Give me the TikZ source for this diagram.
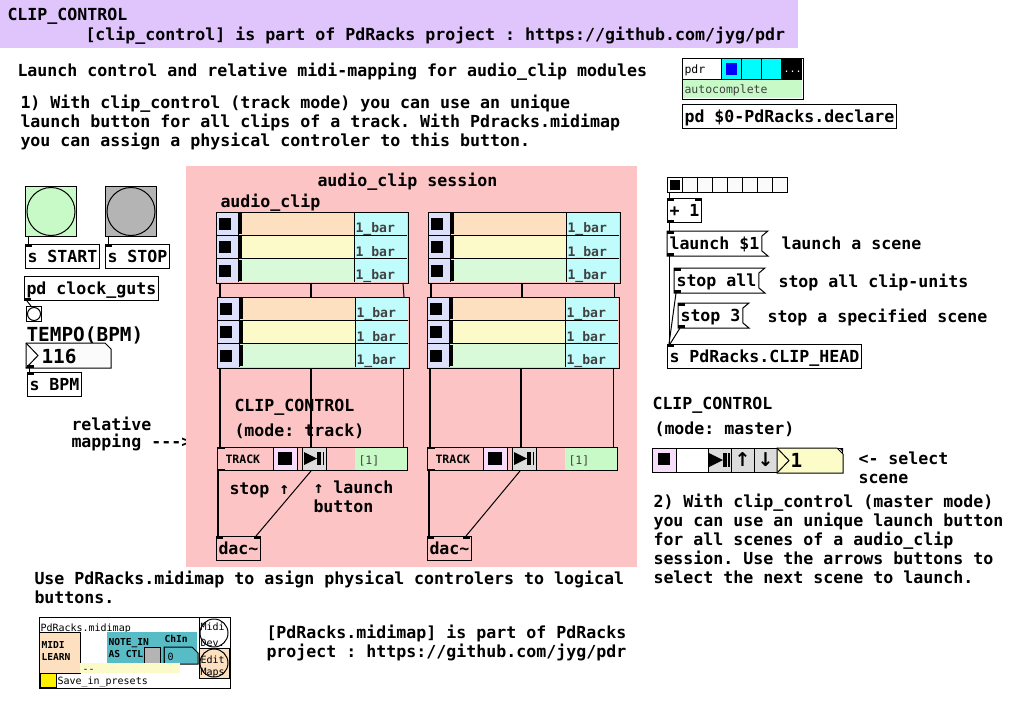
\documentclass[tikz,border=0pt]{standalone}
\usepackage{fontspec}
\setmonofont{DejaVu Sans Mono}
\newfontfamily\pdsans{DejaVu Sans}
\usetikzlibrary{positioning}

\definecolor{pdheader}{RGB}{224,196,252}
\definecolor{pdpink}{RGB}{252,196,196}
\definecolor{clippeach}{RGB}{252,224,192}
\definecolor{clipyellow}{RGB}{252,250,200}
\definecolor{clipgreen}{RGB}{216,250,216}
\definecolor{clipcyan}{RGB}{192,252,252}
\definecolor{cliplav}{RGB}{220,224,250}
\definecolor{bangreen}{RGB}{200,250,200}
\definecolor{bangray}{RGB}{180,180,180}
\definecolor{cellpink}{RGB}{248,220,252}
\definecolor{cellgray}{RGB}{220,220,220}
\definecolor{numyellow}{RGB}{252,252,200}
\definecolor{mapteal}{RGB}{88,188,198}
\definecolor{pdrcyan}{RGB}{0,252,252}
\definecolor{pdrblue}{RGB}{0,0,252}
\definecolor{txtgray}{RGB}{64,64,64}

\newcommand\pdfont{\ttfamily\bfseries\fontsize{16.6}{19}\selectfont}
\newcommand\pdbig{\ttfamily\bfseries\fontsize{19.4}{22}\selectfont}
\newcommand\pdclip{\ttfamily\bfseries\fontsize{13.1}{15}\selectfont}
\newcommand\pdtiny{\ttfamily\fontsize{11.5}{13}\selectfont}
\newcommand\pdtinyb{\ttfamily\bfseries\fontsize{11.5}{13}\selectfont}
\newcommand\pdmini{\ttfamily\fontsize{10}{12}\selectfont}
\newcommand\pdminib{\ttfamily\bfseries\fontsize{9.6}{12}\selectfont}
\newcommand\pdarrow{\pdsans\bfseries\fontsize{19}{22}\selectfont}

\tikzset{
	obj/.style = {draw, anchor=north west, inner xsep=2, inner ysep=0, text height=18, text depth=6, font=\pdfont},
	msg/.style = {anchor=north west, inner xsep=2, inner ysep=0, text height=18, text depth=6, font=\pdfont},
	comment/.style = {anchor=base west, inner sep=0, font=\pdfont, align=left},
	small label/.style = {anchor=base west, inner sep=0},
	bangbox/.style = {draw, anchor=north west, inner sep=0},
	clipframe/.style = {anchor=north west, minimum width=191, minimum height=70, inner sep=0},
	trackframe/.style = {draw, fill=pdpink, anchor=north west, minimum width=190, minimum height=23, inner sep=0},
	sig/.style = {line width=2}
}

% message box outline
\newcommand\msgflag[1]{\draw (#1.north west) -- ([xshift=6]#1.north east) -- ([yshift=-5]#1.north east)
	-- ([yshift=5]#1.south east) -- ([xshift=6]#1.south east) -- (#1.south west) -- cycle;}
% number box outline
\newcommand\numshape[3]{\draw[fill=#2] (#1.north west) -- ([xshift=-6]#1.north east) -- ([yshift=-6]#1.north east)
	-- (#1.south east) -- (#1.south west) -- cycle;
	\draw (#1.north west) -- ([xshift=#3]#1.west) -- (#1.south west);}
\newcommand\inlet[2][0]{\fill ([xshift=#1]#2.north west) rectangle ++(7,3);}
\newcommand\outlet[2][0]{\fill ([xshift=#1]#2.south west) rectangle ++(7,-3);}

\newcommand\clipblock[3]{%
	\node[clipframe] (#1) at (#2,#3) {};
	\foreach \row/\rowcol in {0/clippeach,1/clipyellow,2/clipgreen}{
		\fill[cliplav] (#2,{#3+\row*70/3}) rectangle ++(22,70/3);
		\fill[\rowcol] (#2+22,{#3+\row*70/3}) rectangle ++(116,70/3);
		\fill[clipcyan] (#2+138,{#3+\row*70/3}) rectangle ++(53,70/3);
		\fill (#2+3,{#3+\row*70/3+6}) rectangle ++(12,12);
		\fill (#2+23,{#3+\row*70/3+1}) rectangle ++(3,70/3-2);
		\draw (#2+22,{#3+\row*70/3}) -- ++(0,70/3) (#2+138,{#3+\row*70/3}) -- ++(0,70/3);
		\draw (#2,{#3+\row*70/3}) -- ++(191,0);
		\node[small label, font=\pdclip, text=txtgray] (#1-bar\row) at (#2+139,{#3+\row*70/3+20.7}) {1\_bar};
	}
	\draw (#1.north west) rectangle (#1.south east);
}

\newcommand\trackwidget[3]{%
	\node[trackframe] (#1) at (#2,#3) {};
	\draw[fill=cellpink] (#2+56,#3) rectangle ++(24,23);
	\fill (#2+61,#3+5) rectangle ++(14,13);
	\draw[fill=cellgray] (#2+85,#3) rectangle ++(24,23);
	\fill (#2+87,#3+5) -- (#2+100,#3+11.5) -- (#2+87,#3+18) -- cycle;
	\fill (#2+100,#3+5) rectangle ++(4,13);
	\fill (#2+105.5,#3+5) rectangle ++(1.5,13);
	\fill[bangreen] (#2+138,#3+0.5) rectangle (#2+189.5,#3+22.5);
	\node[small label, font=\pdtinyb] (#1-label) at (#2+8,#3+16.5) {TRACK};
	\node[small label, font=\pdtiny, text=txtgray] (#1-scene) at (#2+141,#3+17) {[1]};
	\fill (#1.north west) rectangle ++(8,2);
	\fill (#1.south west) rectangle ++(8,-2);
}

\begin{document}
\begin{tikzpicture}[x=1pt, y=-1pt, line width=1pt]
	\useasboundingbox (0,0) rectangle (1014,701);
	\fill[white] (0,0) rectangle (1014,701);

	% header
	\fill[pdheader] (0,0) rectangle (798,48);
	\node[comment] (title) at (7,21) {CLIP\_CONTROL};
	\node[comment] (credit) at (85,41) {[clip\_control] is part of PdRacks project : https://github.com/jyg/pdr};
	\node[comment] (intro) at (17,77) {Launch control and relative midi-mapping for audio\_clip modules};
	\node[comment] (trackdoc) at (20,146) {1) With clip\_control (track mode) you can use an unique\\launch button for all clips of a track. With Pdracks.midimap\\you can assign a physical controler to this button.};

	% pdr declare
	\node[anchor=north west, minimum width=120, minimum height=39, inner sep=0] (pdr) at (682,59) {};
	\fill[bangreen] (682,79) rectangle (802,98);
	\fill[pdrcyan] (721,59) rectangle (781,79);
	\fill (781,59) rectangle (802,79);
	\draw (721,59) -- (721,79) (741,59) -- (741,79) (761,59) -- (761,79) (682,79) -- (802,79);
	\fill[pdrblue] (726,63) rectangle (737,75);
	\draw (pdr.north west) rectangle (pdr.south east);
	\node[small label, font=\pdtiny] (pdrname) at (684,74) {pdr};
	\node[small label, font=\pdmini, text=white] (pdrmore) at (783,73) {...};
	\node[small label, font=\pdtiny, text=txtgray] (pdrauto) at (684,93) {autocomplete};
	\node[obj] (declare) at (682,104) {pd \$0-PdRacks.declare};

	% transport
	\node[bangbox, fill=bangreen, minimum width=51, minimum height=50] (bstart) at (25,186) {};
	\draw (bstart.center) circle[radius=24pt];
	\node[bangbox, fill=bangray, minimum width=51, minimum height=50] (bstop) at (105,186) {};
	\draw (bstop.center) circle[radius=24pt];
	\node[obj] (sstart) at (25,244) {s START};
	\node[obj] (sstop) at (105,244) {s STOP};
	\draw ([xshift=3]bstart.south west) -- ([xshift=3]sstart.north west);
	\draw ([xshift=3]bstop.south west) -- ([xshift=3]sstop.north west);
	\inlet{sstart} \inlet{sstop}

	\node[obj] (clockguts) at (24,276) {pd clock\_guts};
	\outlet{clockguts}
	\node[bangbox, minimum size=15] (tick) at (26,306) {};
	\draw (tick.center) circle[radius=6.5pt];
	\draw ([xshift=3]clockguts.south west) -- ([xshift=5]tick.north west);

	\node[small label, font=\pdbig] (tempolabel) at (26,341) {TEMPO(BPM)};
	\node[anchor=north west, minimum width=84, minimum height=24, inner sep=0] (bpmbox) at (26,343) {};
	\numshape{bpmbox}{gray!3}{12}
	\node[small label, font=\pdbig] (bpmval) at (41,363) {116};
	\node[obj] (sbpm) at (27,372) {s BPM};
	\draw ([xshift=3]bpmbox.south west) -- ([xshift=2]sbpm.north west);
	\inlet{sbpm} \outlet[1]{bpmbox}

	\node[comment] (relmap) at (71,447) {relative\\[-2pt]mapping --->};

	% audio_clip session
	\fill[pdpink] (186,166) rectangle (637,567);
	\node[comment] (sessiontitle) at (317,186) {audio\_clip session};
	\node[comment] (cliplabel) at (220,207) {audio\_clip};
	\clipblock{clipA}{216}{212}
	\clipblock{clipB}{428}{212}
	\clipblock{clipC}{217}{297}
	\clipblock{clipD}{427}{297}
	\trackwidget{trackA}{217}{447}
	\trackwidget{trackB}{427}{447}
	\node[obj] (dacA) at (216,536) {dac\textasciitilde};
	\node[obj] (dacB) at (427,536) {dac\textasciitilde};
	\inlet{dacA} \inlet[38]{dacA} \inlet{dacB} \inlet[36]{dacB}

	\draw[sig] ([xshift=4]clipA.south west) -- ([xshift=3]clipC.north west);
	\draw[sig] ([xshift=95]clipA.south west) -- ([xshift=94]clipC.north west);
	\draw ([xshift=187]clipA.south west) -- ([xshift=187]clipC.north west);
	\draw[sig] ([xshift=3]clipB.south west) -- ([xshift=4]clipD.north west);
	\draw[sig] ([xshift=94]clipB.south west) -- ([xshift=95]clipD.north west);
	\draw ([xshift=186]clipB.south west) -- ([xshift=187]clipD.north west);

	\draw[sig] ([xshift=3]clipC.south west) -- ([xshift=3]trackA.north west);
	\draw[sig] ([xshift=94]clipC.south west) -- ([xshift=94]trackA.north west);
	\draw ([xshift=186]clipC.south west) -- ([xshift=186]trackA.north west);
	\draw[sig] ([xshift=3]clipD.south west) -- ([xshift=3]trackB.north west);
	\draw[sig] ([xshift=94]clipD.south west) -- ([xshift=94]trackB.north west);
	\draw ([xshift=186]clipD.south west) -- ([xshift=186]trackB.north west);

	\draw[sig] ([xshift=1]trackA.south west) -- ([xshift=2]dacA.north west);
	\draw ([xshift=94]trackA.south west) -- ([xshift=40]dacA.north west);
	\draw[sig] ([xshift=2]trackB.south west) -- ([xshift=2]dacB.north west);
	\draw ([xshift=93]trackB.south west) -- ([xshift=39]dacB.north west);

	\node[comment] (trackname) at (234,411.5) {CLIP\_CONTROL};
	\node[comment] (trackmode) at (234,436) {(mode: track)};
	\node[comment] (stophint) at (229,494) {stop ↑};
	\node[comment] (launchhint) at (313,512) {↑ launch\\button};

	% scene launcher
	\node[bangbox, fill=gray!3, minimum width=120, minimum height=15] (scenes) at (667,177) {};
	\foreach \i in {1,...,7}
		\draw ([xshift=\i*15]scenes.north west) -- ([xshift=\i*15]scenes.south west);
	\fill ([xshift=2.5,yshift=-2.5]scenes.north west) rectangle ++(10,10);
	\node[obj] (plusone) at (667,198) {+ 1};
	\node[msg] (launch) at (667,231) {launch \$1};
	\msgflag{launch}
	\node[msg] (stopall) at (674,268) {stop all};
	\msgflag{stopall}
	\node[msg] (stopthree) at (678,303) {stop 3};
	\msgflag{stopthree}
	\node[obj] (cliphead) at (667,344) {s PdRacks.CLIP\_HEAD};
	\inlet{plusone} \fill ([xshift=-7]plusone.north east) rectangle ++(7,3); \outlet{plusone}
	\inlet{launch} \outlet{launch} \inlet{stopall} \outlet{stopall}
	\inlet{stopthree} \outlet{stopthree} \inlet{cliphead}
	\draw ([xshift=2]scenes.south west) -- ([xshift=2]plusone.north west);
	\draw ([xshift=2]plusone.south west) -- ([xshift=2]launch.north west);
	\draw ([xshift=2]launch.south west) -- ([xshift=2]cliphead.north west);
	\draw ([xshift=2]stopall.south west) -- ([xshift=2]cliphead.north west);
	\draw ([xshift=2]stopthree.south west) -- ([xshift=3]cliphead.north west);
	\node[comment] (launchdoc) at (781,249) {launch a scene};
	\node[comment] (stopalldoc) at (778,287) {stop all clip-units};
	\node[comment] (stopdoc) at (767,322) {stop a specified scene};

	% master clip_control
	\node[comment] (mastername) at (652,409) {CLIP\_CONTROL};
	\node[comment] (mastermode) at (654,434) {(mode: master)};
	\node[bangbox, minimum width=190, minimum height=24] (master) at (652,448) {};
	\draw[fill=cellpink] (652,448) rectangle (676,472);
	\fill (658,453) rectangle (670,465);
	\foreach \cx in {708,731,754}
		\draw[fill=cellgray] (\cx,448) rectangle ++(23,24);
	\fill (709,453) -- (723,460) -- (709,467) -- cycle;
	\fill (723,453) rectangle (727,467);
	\fill (728,453) rectangle (729.5,467);
	\node[inner sep=0, font=\pdarrow] (masterup) at (742.5,460) {↑};
	\node[inner sep=0, font=\pdarrow] (masterdown) at (765.5,460) {↓};
	\node[anchor=north west, minimum width=65, minimum height=24, inner sep=0] (masterscene) at (777,448) {};
	\numshape{masterscene}{numyellow}{12}
	\fill ([xshift=-4]masterscene.north east) -- (masterscene.north east) -- ([yshift=-4]masterscene.north east) -- cycle;
	\node[small label, font=\pdbig] (mastersceneval) at (790,467) {1};
	\node[comment] (selecthint) at (858,483) {<- select\\scene};
	\node[comment] (masterdoc) at (653,583) {2) With clip\_control (master mode)\\you can use an unique launch button\\for all scenes of a audio\_clip\\session. Use the arrows buttons to\\select the next scene to launch.};

	% midimap
	\node[comment] (mapdoc) at (34,603) {Use PdRacks.midimap to asign physical controlers to logical\\buttons.};
	\node[bangbox, fill=white, minimum width=191, minimum height=71] (midimap) at (39,617) {};
	\node[small label, font=\pdmini] (maptitle) at (40,631) {PdRacks.midimap};
	\draw[fill=clippeach] (39,632) rectangle (80,673);
	\node[small label, font=\pdminib, align=left] (maplearn) at (41,660) {MIDI\\LEARN};
	\fill[mapteal] (107,632) rectangle (197,663);
	\node[small label, font=\pdminib, align=left] (mapnote) at (108,657) {NOTE\_IN\\AS CTL};
	\node[small label, font=\pdminib] (mapchan) at (164,642) {ChIn};
	\draw[fill=bangray] (144,647) rectangle (160,663);
	\node[anchor=north west, minimum width=33, minimum height=16, inner sep=0] (mapchanbox) at (164,647) {};
	\numshape{mapchanbox}{mapteal}{0}
	\node[small label, font=\pdmini] (mapchanval) at (167,660) {0};
	\fill[clipyellow] (80,663) rectangle (180,673);
	\node[small label, font=\pdmini] (mapdash) at (82,672) {-{}-};
	\draw[fill=yellow] (40,673) rectangle (56,687);
	\node[small label, font=\pdmini] (mapsave) at (57,684) {Save\_in\_presets};
	\draw (199,617) -- (199,678);
	\draw[fill=white] (214,633) circle[radius=14pt];
	\node[small label, font=\pdmini, align=left] (mapdev) at (200,646) {Midi\\[4pt]Dev.};
	\draw[fill=clippeach] (199,648) rectangle (229,678);
	\draw (214,663) circle[radius=14pt];
	\node[small label, font=\pdmini, align=left] (mapedit) at (200,675) {Edit\\Maps};
	\node[comment] (mapcredit) at (266,657) {[PdRacks.midimap] is part of PdRacks\\project : https://github.com/jyg/pdr};
\end{tikzpicture}
\end{document}
